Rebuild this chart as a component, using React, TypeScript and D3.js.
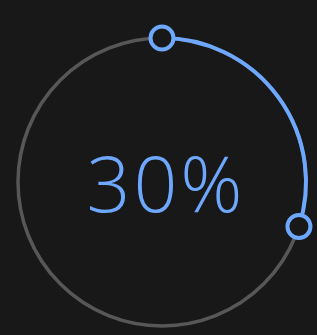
import * as d3 from 'd3'
import { useEffect, useRef } from 'react'

const value = 30
const maxValue = 100
const label = `${value}%`

const App = () => {
    const ref = useRef<SVGSVGElement>(null)

    useEffect(() => {
        document.body.style.margin = '0'
        const width = 317
        const height = 335
        const cx = 162
        const cy = 182
        const r = 144

        const svg = d3.select(ref.current)
        svg.selectAll('*').remove()

        svg.append('rect')
            .attr('width', width)
            .attr('height', height)
            .attr('fill', '#181818')

        const g = svg.append('g').attr('transform', `translate(${cx},${cy})`)

        const angle = d3.scaleLinear().domain([0, maxValue]).range([0, 2 * Math.PI])

        // track
        g.append('circle')
            .attr('r', r)
            .attr('fill', 'none')
            .attr('stroke', '#575757')
            .attr('stroke-width', 3.5)

        // value arc
        const arc = d3.arc()
            .innerRadius(r)
            .outerRadius(r)
            .startAngle(0)
            .endAngle(angle(value))

        g.append('path')
            .attr('d', arc({} as any) as string)
            .attr('fill', 'none')
            .attr('stroke', '#6ea8fe')
            .attr('stroke-width', 4)

        // handles
        const ends = [0, value].map(v => {
            const a = angle(v) - Math.PI / 2
            return [r * Math.cos(a), r * Math.sin(a)]
        })
        g.selectAll('.handle')
            .data(ends)
            .join('circle')
                .attr('class', 'handle')
                .attr('cx', d => d[0])
                .attr('cy', d => d[1])
                .attr('r', 11.5)
                .attr('fill', '#181818')
                .attr('stroke', '#6ea8fe')
                .attr('stroke-width', 4)

        g.append('text')
            .attr('x', 4)
            .attr('y', 30)
            .attr('text-anchor', 'middle')
            .attr('fill', '#6ea8fe')
            .attr('font-family', 'Open Sans, sans-serif')
            .attr('font-weight', 300)
            .attr('font-size', 77)
            .attr('letter-spacing', 3)
            .text(label)
    }, [])

    return <svg ref={ref} width={317} height={335} style={{ display: 'block' }} />
}

export default App
